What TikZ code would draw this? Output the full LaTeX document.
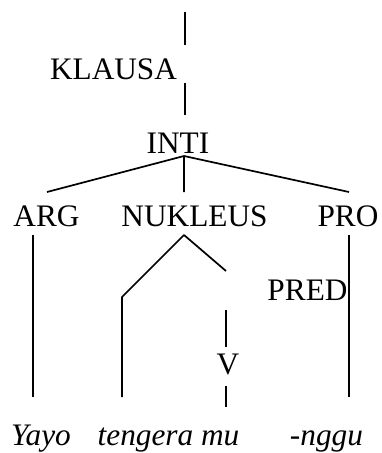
\documentclass[tikz,border=0pt]{standalone}
\usepackage{fontspec}
\setmainfont{Liberation Serif}
\begin{document}
\begin{tikzpicture}[x=1pt,y=-1pt,line width=1.7pt,line join=round,
	lbl/.style={anchor=base,inner sep=0pt,font=\fontsize{31.3}{36}\selectfont},
	word/.style={lbl,font=\fontsize{31.3}{36}\selectfont\itshape}]
		\useasboundingbox (0,0) rectangle (381,453);
		% Label kategori
		\node[lbl] (klausa) at (113.5,79) {KLAUSA};
		\node[lbl] (inti) at (178,153) {INTI};
		\node[lbl] (arg) at (46.5,226) {ARG};
		\node[lbl] (nukleus) at (194.5,226) {NUKLEUS};
		\node[lbl] (pro) at (348,226) {PRO};
		\node[lbl] (pred) at (307.5,300) {PRED};
		\node[lbl] (v) at (228,374) {V};
		% Kata
		\node[word] (yayo) at (41,445) {Yayo};
		\node[word] (tengera) at (168.5,445) {tengera mu};
		\node[word] (nggu) at (326.5,445) {-nggu};
		% Titik ujung garis
		\coordinate (k1) at (185,12); \coordinate (k2) at (185,45);
		\coordinate (k3) at (185,83); \coordinate (k4) at (185,115);
		\coordinate (i0) at (184,156);
		\coordinate (argtop) at (47,192); \coordinate (nuktop) at (184,192); \coordinate (protop) at (349,192);
		\coordinate (n0) at (184,235);
		\coordinate (nl) at (122,297); \coordinate (nr) at (226,271);
		\coordinate (a1) at (33,235); \coordinate (a2) at (33,397);
		\coordinate (nl2) at (122,397);
		\coordinate (p1) at (349,235); \coordinate (p2) at (349,397);
		\coordinate (v1) at (226,310); \coordinate (v2) at (226,347);
		\coordinate (v3) at (226,386); \coordinate (v4) at (226,407);
		% Garis
		\draw (k1)--(k2) (k3)--(k4);
		\draw (argtop)--(i0)--(protop) (i0)--(nuktop);
		\draw (nl2)--(nl)--(n0)--(nr);
		\draw (a1)--(a2) (p1)--(p2);
		\draw (v1)--(v2) (v3)--(v4);
\end{tikzpicture}
\end{document}
